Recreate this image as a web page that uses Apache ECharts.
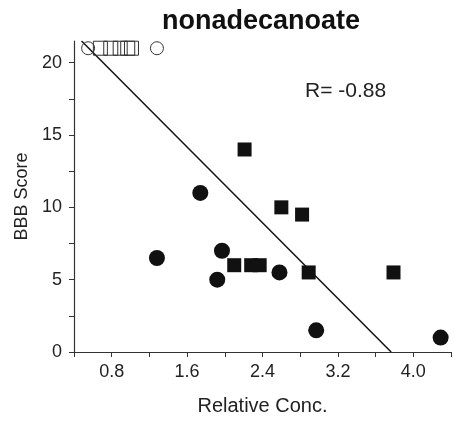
<!DOCTYPE html>
<html><head><meta charset="utf-8">
<script src="https://cdn.jsdelivr.net/npm/echarts@6/dist/echarts.min.js"></script>
<style>html,body{margin:0;padding:0;background:#fff}#c{width:454px;height:421px}</style>
</head><body><div id="c"></div>
<script>
const titleText = 'nonadecanoate';
const xTicks = [0.8, 1.6, 2.4, 3.2, 4.0];
const yTicks = [0, 5, 10, 15, 20];
const filledCircles = [[1.28, 6.5], [1.74, 11], [1.97, 7], [1.92, 5], [2.58, 5.5], [2.97, 1.5], [4.29, 1]];
const filledSquares = [[2.21, 14], [2.6, 10], [2.82, 9.5], [2.1, 6], [2.28, 6], [2.37, 6], [2.89, 5.5], [3.79, 5.5]];
const openCircles = [[0.55, 21], [1.28, 21]];
const openSquares = [[0.68, 21], [0.79, 21], [0.89, 21], [0.97, 21], [1.01, 21]];
const fitLine = [[0.48, 21.5], [3.765, 0]];
const rText = 'R= -0.88';

const chart = echarts.init(document.getElementById('c'), null, {renderer: 'canvas'});
const font = 'Liberation Sans, Arial, sans-serif';
const axisCol = '#333';
chart.setOption({
  animation: false,
  grid: {left: 74, top: 41, width: 383, bottom: 64},
  xAxis: {type: 'value', min: 0.4, max: 4.4, interval: 0.4,
    name: 'Relative Conc.', nameLocation: 'middle', nameGap: 44,
    nameTextStyle: {fontFamily: font, fontSize: 20, color: '#222'},
    axisLine: {lineStyle: {color: axisCol, width: 1.2}},
    axisTick: {inside: false, length: 5, lineStyle: {color: axisCol}},
    splitLine: {show: false},
    axisLabel: {fontFamily: font, fontSize: 18, color: '#222', margin: 11,
      formatter: v => { const r = Math.round(v*10)/10; return xTicks.some(t => Math.abs(t-r) < 1e-6) ? r.toFixed(1) : ''; }}
  },
  yAxis: {type: 'value', min: 0, max: 21.5, interval: 2.5,
    name: 'BBB Score', nameLocation: 'middle', nameGap: 40,
    nameTextStyle: {fontFamily: font, fontSize: 18, color: '#222'},
    axisLine: {show: true, lineStyle: {color: axisCol, width: 1.2}},
    axisTick: {show: true, inside: false, length: 5, lineStyle: {color: axisCol}},
    splitLine: {show: false},
    axisLabel: {fontFamily: font, fontSize: 18, color: '#222', margin: 12, showMaxLabel: false,
      formatter: v => yTicks.includes(v) ? String(v) : ''}
  },
  series: [
    {type: 'line', data: fitLine, symbol: 'none', lineStyle: {color: '#111', width: 1.5}, z: 1},
    {type: 'scatter', data: filledCircles, symbol: 'circle', symbolSize: 16, itemStyle: {color: '#111', opacity: 1}, z: 3},
    {type: 'scatter', data: filledSquares, symbol: 'rect', symbolSize: 14, itemStyle: {color: '#111', opacity: 1}, z: 3},
    {type: 'scatter', data: openSquares, symbol: 'rect', symbolSize: 14, itemStyle: {color: 'rgba(255,255,255,0)', borderColor: '#333', borderWidth: 1, opacity: 1}, z: 2},
    {type: 'scatter', data: openCircles, symbol: 'circle', symbolSize: 13, itemStyle: {color: 'rgba(255,255,255,0)', borderColor: '#333', borderWidth: 1, opacity: 1}, z: 2}
  ],
  graphic: [
    {type: 'text', x: 261, y: 22,
      style: {text: titleText, font: 'bold 27px ' + font, fill: '#111', textAlign: 'center', textVerticalAlign: 'middle'}},
    {type: 'text', x: 305, y: 91,
      style: {text: rText, font: '21px ' + font, fill: '#222', textAlign: 'left', textVerticalAlign: 'middle'}}
  ]
});
</script></body></html>
